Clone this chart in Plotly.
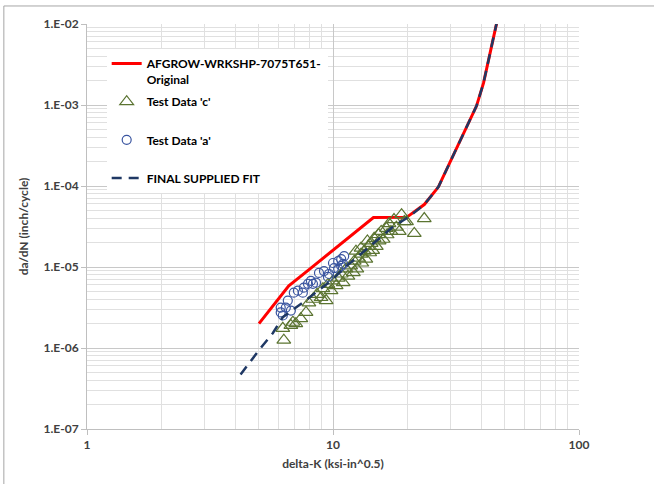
import plotly.graph_objects as go

# ---- data ----
afgrow_k = [5.0, 6.61, 8.13, 10.8, 14.6, 19.9, 23.5, 26.8, 30.3, 38.3, 40.9, 46.5]
afgrow_dadn = [2.0e-6, 5.86e-6, 9.7e-6, 1.96e-5, 4.07e-5, 4.1e-5, 5.9e-5, 9.7e-5, 2.13e-4, 9.7e-4, 1.86e-3, 1.1e-2]

fit_k = [4.21, 5.08, 5.69, 6.25, 7.5, 9.82, 11.1, 14.0, 17.6, 20.4, 23.5, 26.8, 30.3, 38.3, 40.9, 46.5]
fit_dadn = [4.7e-7, 1.0e-6, 1.52e-6, 2.4e-6, 3.6e-6, 6.75e-6, 9.7e-6, 1.77e-5, 3.16e-5, 4.19e-5,
            5.9e-5, 9.7e-5, 2.13e-4, 9.7e-4, 1.86e-3, 1.1e-2]

c_k = [6.31, 6.25, 6.74, 7.06, 7.40, 6.87, 7.77, 7.98, 8.29, 8.61, 8.94, 9.10, 9.38, 9.54, 9.82,
       10.0, 10.3, 10.5, 10.8, 11.0, 11.3, 11.5, 11.8, 12.1, 12.2, 12.5, 12.7, 13.0, 13.1, 13.4,
       13.6, 13.9, 14.1, 14.3, 14.5, 14.7, 15.0, 15.3, 15.4, 15.7, 16.0, 16.5, 16.6, 16.9, 17.2,
       17.7, 18.1, 18.6, 19.0, 19.5, 19.9, 21.4, 23.5, 13.0, 13.8, 12.4]
c_dadn = [1.25e-6, 1.75e-6, 1.9e-6, 2.0e-6, 2.3e-6, 2.08e-6, 2.75e-6, 3.6e-6, 4.0e-6, 4.6e-6,
          4.2e-6, 5.4e-6, 3.85e-6, 6.1e-6, 5.1e-6, 6.75e-6, 5.9e-6, 7.3e-6, 8.2e-6, 6.4e-6,
          9.5e-6, 7.7e-6, 1.03e-5, 8.5e-6, 1.18e-5, 9.5e-6, 1.29e-5, 1.44e-5, 1.12e-5, 1.57e-5,
          1.25e-5, 1.8e-5, 1.5e-5, 1.96e-5, 1.6e-5, 2.26e-5, 1.8e-5, 2.52e-5, 2.1e-5, 2.75e-5,
          2.2e-5, 3.0e-5, 2.5e-5, 3.44e-5, 2.75e-5, 3.85e-5, 3.1e-5, 2.75e-5, 4.43e-5, 3.64e-5,
          3.64e-5, 2.6e-5, 3.96e-5, 1.71e-5, 2.1e-5, 1.57e-5]

a_k = [6.13, 6.25, 6.13, 6.43, 6.55, 6.74, 6.93, 7.20, 7.54, 7.61, 7.91, 8.13, 8.29, 8.53, 8.77,
       9.19, 9.54, 9.63, 10.1, 10.0, 10.5, 10.5, 10.8, 11.0, 11.1, 10.8]
a_dadn = [3.16e-6, 2.52e-6, 2.75e-6, 3.16e-6, 3.85e-6, 2.9e-6, 4.82e-6, 5.1e-6, 4.82e-6, 5.55e-6,
          6.2e-6, 6.75e-6, 6.2e-6, 6.4e-6, 8.45e-6, 8.9e-6, 7.55e-6, 8.2e-6, 9.7e-6, 1.12e-5,
          1.18e-5, 9.5e-6, 1.25e-5, 1.09e-5, 1.36e-5, 1.03e-5]

x_ticks = [1, 10, 100]
x_ticktext = ["1", "10", "100"]
y_ticks = [1e-7, 1e-6, 1e-5, 1e-4, 1e-3, 1e-2]
y_ticktext = ["1.E-07", "1.E-06", "1.E-05", "1.E-04", "1.E-03", "1.E-02"]

x_minor = [m * d for d in (1, 10) for m in range(2, 10)]
y_minor = [m * d for d in (1e-7, 1e-6, 1e-5, 1e-4, 1e-3) for m in range(2, 10)]

FONT = "Lato"
TXT = "#404040"

fig = go.Figure()
fig.add_trace(go.Scatter(x=afgrow_k, y=afgrow_dadn, mode="lines",
                         name="AFGROW-WRKSHP-7075T651-<br>Original",
                         line=dict(color="#ff0000", width=3), legendgroup="g1"))
fig.add_trace(go.Scatter(x=c_k, y=c_dadn, mode="markers", name="Test Data 'c'<br>&nbsp;",
                         marker=dict(symbol="triangle-up-open", size=12, color="#5b7431",
                                     line=dict(width=1.2)), legendgroup="g2"))
fig.add_trace(go.Scatter(x=a_k, y=a_dadn, mode="markers", name="Test Data 'a'<br>&nbsp;",
                         marker=dict(symbol="circle-open", size=9, color="#3a55a0",
                                     line=dict(width=1.2)), legendgroup="g3"))
fig.add_trace(go.Scatter(x=fit_k, y=fit_dadn, mode="lines", name="FINAL SUPPLIED FIT",
                         line=dict(color="#1f3864", width=2.5, dash="10px,7px"), legendgroup="g4"))

axis_common = dict(type="log", showline=True, linecolor="#bfbfbf", linewidth=1,
                   showgrid=True, gridcolor="#c8c8c8", gridwidth=1, zeroline=False,
                   ticks="outside", ticklen=5, tickcolor="#bfbfbf",
                   tickfont=dict(family=FONT, size=12, color=TXT, weight="bold"))

fig.update_xaxes(range=[0, 2], tickvals=x_ticks, ticktext=x_ticktext,
                 minor=dict(tickvals=x_minor, showgrid=True, gridcolor="#e0e0e0", ticks=""),
                 title=dict(text="delta-K (ksi-in^0.5)", standoff=8,
                            font=dict(family=FONT, size=12, color=TXT, weight="bold")),
                 **axis_common)
fig.update_yaxes(range=[-7, -2], tickvals=y_ticks, ticktext=y_ticktext,
                 minor=dict(tickvals=y_minor, showgrid=True, gridcolor="#e0e0e0", ticks=""),
                 title=dict(text="da/dN (inch/cycle)", standoff=12,
                            font=dict(family=FONT, size=12, color=TXT, weight="bold")),
                 **axis_common)

fig.update_layout(
    width=654, height=484,
    margin=dict(l=87, r=75, t=24, b=55),
    paper_bgcolor="white", plot_bgcolor="white",
    showlegend=True,
    legend=dict(x=0.04, y=0.938, xanchor="left", yanchor="top",
                bgcolor="white", borderwidth=0, traceorder="grouped",
                tracegroupgap=4, valign="top",
                font=dict(family=FONT, size=12, color="#000000", weight="bold")),
    shapes=[dict(type="rect", xref="paper", yref="paper",
                 x0=-0.169, x1=1.2, y0=-0.2, y1=1.0445,
                 line=dict(color="#a6a6a6", width=1), fillcolor="rgba(0,0,0,0)")],
)

fig.write_html("out.html")
